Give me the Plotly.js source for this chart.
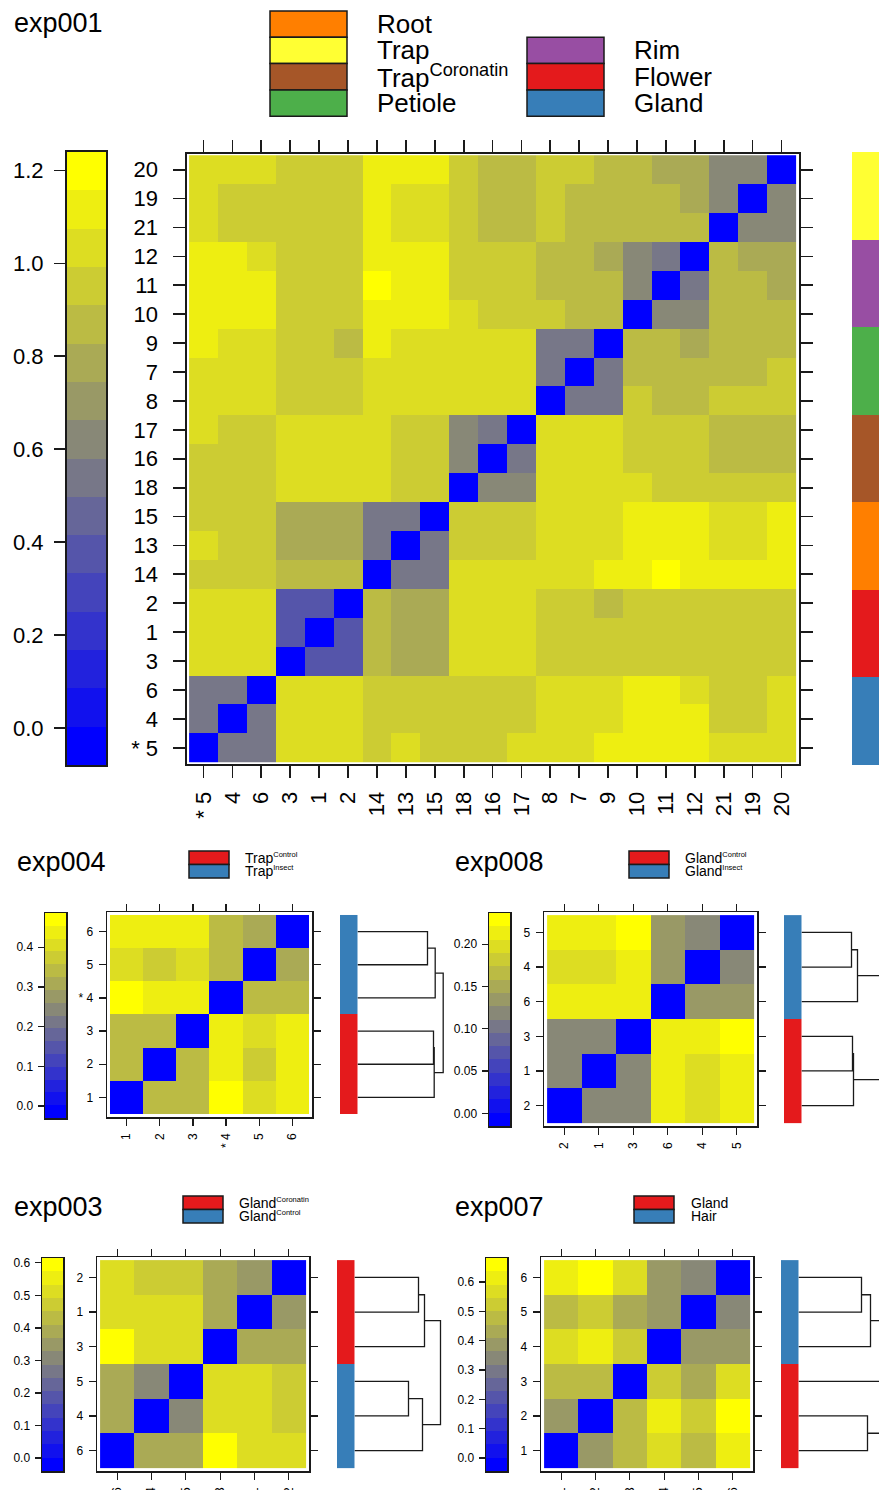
<!DOCTYPE html>
<html><head><meta charset="utf-8">
<script src="https://cdn.plot.ly/plotly-3.0.1.min.js"></script>
<style>html,body{margin:0;padding:0;background:#fff}#chart{width:879px;height:1490px}</style>
</head><body><div id="chart"></div>
<script>
// ---------------- DATA ----------------
// exp001 (main): rows listed top -> bottom, columns left -> right
const mainCols = ["* 5","4","6","3","1","2","14","13","15","18","16","17","8","7","9","10","11","12","21","19","20"];
const mainRows = ["20","19","21","12","11","10","9","7","8","17","16","18","15","13","14","2","1","3","6","4","* 5"];
const mainValues = [
 [1.03,1.03,1.03,0.95,0.95,0.95,1.12,1.12,1.12,0.95,0.87,0.87,0.95,0.95,0.87,0.87,0.78,0.78,0.62,0.62,0],
 [1.03,0.95,0.95,0.95,0.95,0.95,1.12,1.03,1.03,0.95,0.87,0.87,0.95,0.87,0.87,0.87,0.87,0.78,0.62,0,0.62],
 [1.03,0.95,0.95,0.95,0.95,0.95,1.12,1.03,1.03,0.95,0.87,0.87,0.95,0.87,0.87,0.87,0.87,0.87,0,0.62,0.62],
 [1.12,1.12,1.03,0.95,0.95,0.95,1.12,1.12,1.12,0.95,0.95,0.95,0.87,0.87,0.78,0.62,0.54,0,0.87,0.78,0.78],
 [1.12,1.12,1.12,0.95,0.95,0.95,1.20,1.12,1.12,0.95,0.95,0.95,0.87,0.87,0.87,0.62,0,0.54,0.87,0.87,0.78],
 [1.12,1.12,1.12,0.95,0.95,0.95,1.12,1.12,1.12,1.03,0.95,0.95,0.95,0.87,0.87,0,0.62,0.62,0.87,0.87,0.87],
 [1.12,1.03,1.03,0.95,0.95,0.87,1.12,1.03,1.03,1.03,1.03,1.03,0.54,0.54,0,0.87,0.87,0.78,0.87,0.87,0.87],
 [1.03,1.03,1.03,0.95,0.95,0.95,1.03,1.03,1.03,1.03,1.03,1.03,0.54,0,0.54,0.87,0.87,0.87,0.87,0.87,0.95],
 [1.03,1.03,1.03,0.95,0.95,0.95,1.03,1.03,1.03,1.03,1.03,1.03,0,0.54,0.54,0.95,0.87,0.87,0.95,0.95,0.95],
 [1.03,0.95,0.95,1.03,1.03,1.03,1.03,0.95,0.95,0.62,0.54,0,1.03,1.03,1.03,0.95,0.95,0.95,0.87,0.87,0.87],
 [0.95,0.95,0.95,1.03,1.03,1.03,1.03,0.95,0.95,0.62,0,0.54,1.03,1.03,1.03,0.95,0.95,0.95,0.87,0.87,0.87],
 [0.95,0.95,0.95,1.03,1.03,1.03,1.03,0.95,0.95,0,0.62,0.62,1.03,1.03,1.03,1.03,0.95,0.95,0.95,0.95,0.95],
 [0.95,0.95,0.95,0.78,0.78,0.78,0.54,0.54,0,0.95,0.95,0.95,1.03,1.03,1.03,1.12,1.12,1.12,1.03,1.03,1.12],
 [1.03,0.95,0.95,0.78,0.78,0.78,0.54,0,0.54,0.95,0.95,0.95,1.03,1.03,1.03,1.12,1.12,1.12,1.03,1.03,1.12],
 [0.95,0.95,0.95,0.87,0.87,0.87,0,0.54,0.54,1.03,1.03,1.03,1.03,1.03,1.12,1.12,1.20,1.12,1.12,1.12,1.12],
 [1.03,1.03,1.03,0.37,0.37,0,0.87,0.78,0.78,1.03,1.03,1.03,0.95,0.95,0.87,0.95,0.95,0.95,0.95,0.95,0.95],
 [1.03,1.03,1.03,0.37,0,0.37,0.87,0.78,0.78,1.03,1.03,1.03,0.95,0.95,0.95,0.95,0.95,0.95,0.95,0.95,0.95],
 [1.03,1.03,1.03,0,0.37,0.37,0.87,0.78,0.78,1.03,1.03,1.03,0.95,0.95,0.95,0.95,0.95,0.95,0.95,0.95,0.95],
 [0.54,0.54,0,1.03,1.03,1.03,0.95,0.95,0.95,0.95,0.95,0.95,1.03,1.03,1.03,1.12,1.12,1.03,0.95,0.95,1.03],
 [0.54,0,0.54,1.03,1.03,1.03,0.95,0.95,0.95,0.95,0.95,0.95,1.03,1.03,1.03,1.12,1.12,1.12,0.95,0.95,1.03],
 [0,0.54,0.54,1.03,1.03,1.03,0.95,1.03,0.95,0.95,0.95,1.03,1.03,1.03,1.12,1.12,1.12,1.12,1.03,1.03,1.03]
];
const mainGroupNames = ["Root","Trap","TrapCoronatin","Petiole","Rim","Flower","Gland"];
const mainGroupLabels = ["Root","Trap","Trap<sup>Coronatin</sup>","Petiole","Rim","Flower","Gland"];
const mainRowGroups = ["Trap","Trap","Trap","Rim","Rim","Rim","Petiole","Petiole","Petiole",
  "TrapCoronatin","TrapCoronatin","TrapCoronatin","Root","Root","Root","Flower","Flower","Flower","Gland","Gland","Gland"];
const mainScale = [-0.08, 1.24];
const mainTicks = [0.0, 0.2, 0.4, 0.6, 0.8, 1.0, 1.2];
const mainTickText = ["0.0","0.2","0.4","0.6","0.8","1.0","1.2"];

// exp004
const e004Cols = ["1","2","3","* 4","5","6"];
const e004Rows = ["6","5","* 4","3","2","1"];
const e004Values = [
 [0.44,0.44,0.44,0.34,0.31,0],
 [0.40,0.37,0.40,0.34,0,0.31],
 [0.47,0.44,0.44,0,0.34,0.34],
 [0.34,0.34,0,0.44,0.40,0.44],
 [0.34,0,0.34,0.44,0.37,0.44],
 [0,0.34,0.34,0.47,0.40,0.44]
];
const e004GroupLabels = ["Trap<sup><span style='font-size:7.5px'>Control</span></sup>","Trap<sup><span style='font-size:7.5px'>Insect</span></sup>"];
const e004RowGroups = [1,1,1,0,0,0];
const e004Scale = [-0.030, 0.486];
const e004Ticks = [0.0,0.1,0.2,0.3,0.4];
const e004TickText = ["0.0","0.1","0.2","0.3","0.4"];
const e004Merge = [[-1,-2],[1,-3],[-4,-5],[3,-6],[2,4]];
const e004Height = [0.700,0.777,0.760,0.767,0.857];

// exp008
const e008Cols = ["2","1","3","6","4","5"];
const e008Rows = ["5","4","6","3","1","2"];
const e008Values = [
 [0.213,0.213,0.229,0.135,0.119,0],
 [0.198,0.198,0.213,0.135,0,0.119],
 [0.213,0.213,0.213,0,0.135,0.135],
 [0.119,0.119,0,0.213,0.213,0.229],
 [0.119,0,0.119,0.213,0.198,0.213],
 [0,0.119,0.119,0.213,0.198,0.213]
];
const e008GroupLabels = ["Gland<sup><span style='font-size:7.5px'>Control</span></sup>","Gland<sup><span style='font-size:7.5px'>Insect</span></sup>"];
const e008RowGroups = [1,1,1,0,0,0];
const e008Scale = [-0.015, 0.237];
const e008Ticks = [0.00,0.05,0.10,0.15,0.20];
const e008TickText = ["0.00","0.05","0.10","0.15","0.20"];
const e008Merge = [[-1,-2],[1,-3],[-4,-5],[3,-6],[2,4]];
const e008Height = [0.50,0.56,0.51,0.52,1.00];

// exp003
const e003Cols = ["6","4","5","3","1","2"];
const e003Rows = ["2","1","3","5","4","6"];
const e003Values = [
 [0.51,0.47,0.47,0.39,0.35,0],
 [0.51,0.51,0.51,0.39,0,0.35],
 [0.60,0.51,0.51,0,0.39,0.39],
 [0.39,0.31,0,0.51,0.51,0.47],
 [0.39,0,0.31,0.51,0.51,0.47],
 [0,0.39,0.39,0.60,0.51,0.51]
];
const e003GroupLabels = ["Gland<sup><span style='font-size:7.5px'>Coronatin</span></sup>","Gland<sup><span style='font-size:7.5px'>Control</span></sup>"];
const e003RowGroups = [0,0,0,1,1,1];
const e003Scale = [-0.040, 0.615];
const e003Ticks = [0.0,0.1,0.2,0.3,0.4,0.5,0.6];
const e003TickText = ["0.0","0.1","0.2","0.3","0.4","0.5","0.6"];
const e003Merge = [[-1,-2],[1,-3],[-4,-5],[3,-6],[2,4]];
const e003Height = [0.64,0.70,0.54,0.68,0.86];

// exp007
const e007Cols = ["1","2","3","4","5","6"];
const e007Rows = ["6","5","4","3","2","1"];
const e007Values = [
 [0.61,0.66,0.57,0.39,0.34,0],
 [0.48,0.52,0.43,0.39,0,0.34],
 [0.57,0.61,0.52,0,0.39,0.39],
 [0.48,0.48,0,0.52,0.43,0.57],
 [0.39,0,0.48,0.61,0.52,0.66],
 [0,0.39,0.48,0.57,0.48,0.61]
];
const e007GroupLabels = ["Gland","Hair"];
const e007RowGroups = [1,1,1,0,0,0];
const e007Scale = [-0.044, 0.682];
const e007Ticks = [0.0,0.1,0.2,0.3,0.4,0.5,0.6];
const e007TickText = ["0.0","0.1","0.2","0.3","0.4","0.5","0.6"];
const e007Merge = [[-1,-2],[1,-3],[-5,-6],[-4,3],[2,4]];
const e007Height = [0.63,0.72,0.69,0.95,1.10];

// ---------------- STYLE / LAYOUT ----------------
const W = 879, H = 1490;
const FONT = '"Liberation Sans", Arial, Helvetica, sans-serif';
const LINE = '#1a1a1a';
const px = x => x / W, py = y => 1 - y / H;
const RAMP = ['#0000FF','#1111EE','#2222DD','#3333CC','#4444BB','#5555AA','#666699','#777788',
              '#888877','#999966','#AAAA55','#BBBB44','#CCCC33','#DDDD22','#EEEE11','#FFFF00'];
const MAIN_GROUP_COLORS = {Root:'#FF7F00',Trap:'#FFFF33',TrapCoronatin:'#A65628',Petiole:'#4DAF4A',Rim:'#984EA3',Flower:'#E41A1C',Gland:'#377EB8'};
const PAIR_COLORS = ['#E41A1C','#377EB8'];

function discreteScale(cols){const n=cols.length,s=[];cols.forEach((c,i)=>{s.push([i/n,c]);s.push([(i+1)/n,c]);});return s;}
const RAMP_SCALE = discreteScale(RAMP);

const data = [];
const layout = {width:W,height:H,margin:{l:0,r:0,t:0,b:0},paper_bgcolor:'#fff',plot_bgcolor:'#fff',
  showlegend:false,shapes:[],annotations:[],font:{family:FONT,color:'#000'}};
let axN = 0;
function newAxes(xd, yd, xopt, yopt){
  axN++; const s = axN===1?'':String(axN);
  layout['xaxis'+s] = Object.assign({domain:[px(xd[0]),px(xd[1])],anchor:'y'+s,showgrid:false,zeroline:false,fixedrange:true},xopt);
  layout['yaxis'+s] = Object.assign({domain:[py(yd[1]),py(yd[0])],anchor:'x'+s,showgrid:false,zeroline:false,fixedrange:true},yopt);
  return {x:'x'+s,y:'y'+s};
}
const rev = a => a.slice().reverse();
const idx = n => Array.from({length:n},(_,i)=>i);

function panel(p){
  const st = p.style, nr = p.rows.length, nc = p.cols.length;
  const tf = {size:st.fs,family:FONT,color:'#000'};
  // colour key
  const nb = RAMP.length, step = (p.scale[1]-p.scale[0])/nb;
  const centers = idx(nb).map(k => p.scale[0]+(k+0.5)*step);
  let a = newAxes(p.cb.slice(0,2), p.cb.slice(2),
    {range:[-0.5,0.5],showticklabels:false,ticks:'',showline:true,mirror:true,linecolor:LINE,linewidth:st.lw},
    {range:p.scale,side:'left',tickmode:'array',tickvals:p.ticks,ticktext:p.tickText,ticks:'outside',ticklen:st.ctl,
     tickwidth:st.tw,tickcolor:LINE,showline:true,mirror:true,linecolor:LINE,linewidth:st.lw,tickfont:tf,ticklabelstandoff:st.cso});
  data.push({type:'heatmap',x:[0],y:centers,z:centers.map(c=>[c]),zmin:p.scale[0],zmax:p.scale[1],
    colorscale:RAMP_SCALE,showscale:false,hoverinfo:'skip',xaxis:a.x,yaxis:a.y});
  // heatmap
  const xr = [-0.5-p.pad[0], nc-0.5+p.pad[0]], yr = [-0.5-p.pad[1], nr-0.5+p.pad[1]];
  a = newAxes(p.hm.slice(0,2), p.hm.slice(2),
    {range:xr,tickmode:'array',tickvals:idx(nc),ticktext:p.cols,tickangle:-90,ticks:'outside',ticklen:st.tl,tickwidth:st.tw,
     tickcolor:LINE,showline:true,mirror:'ticks',linecolor:LINE,linewidth:st.lw,tickfont:tf,ticklabelstandoff:st.xso},
    {range:yr,tickmode:'array',tickvals:idx(nr),ticktext:rev(p.rows),ticks:'outside',ticklen:st.tl,tickwidth:st.tw,
     tickcolor:LINE,showline:true,mirror:'ticks',linecolor:LINE,linewidth:st.lw,tickfont:tf,ticklabelstandoff:st.yso});
  data.push({type:'heatmap',x:idx(nc),y:idx(nr),z:rev(p.values),zmin:p.scale[0],zmax:p.scale[1],
    colorscale:RAMP_SCALE,showscale:false,hoverinfo:'skip',xaxis:a.x,yaxis:a.y});
  // side bar
  const ng = p.groupColors.length;
  a = newAxes(p.sb, p.sbY || p.hm.slice(2), {range:[-0.5,0.5],visible:false}, {range:p.sbY?[-0.5,nr-0.5]:yr,visible:false});
  data.push({type:'heatmap',x:[0],y:idx(nr),z:rev(p.rowGroups).map(g=>[g]),zmin:-0.5,zmax:ng-0.5,
    colorscale:discreteScale(p.groupColors),showscale:false,hoverinfo:'skip',xaxis:a.x,yaxis:a.y});
  // dendrogram
  if(p.merge){
    a = newAxes(p.dend, p.hm.slice(2), {range:[0,(p.dend[1]-p.dend[0])/100],visible:false}, {range:yr,visible:false});
    const pos = [], hgt = [], xs = [], ys = [];
    const node = r => r<0 ? {y:nr-(-r), h:0} : {y:pos[r-1], h:hgt[r-1]};
    p.merge.forEach((m,i)=>{
      const A = node(m[0]), B = node(m[1]), h = p.height[i];
      xs.push(A.h,h,h,B.h,null); ys.push(A.y,A.y,B.y,B.y,null);
      pos.push((A.y+B.y)/2); hgt.push(h);
    });
    data.push({type:'scatter',mode:'lines',x:xs,y:ys,line:{color:LINE,width:1.3},hoverinfo:'skip',xaxis:a.x,yaxis:a.y});
  }
  // title
  layout.annotations.push({xref:'paper',yref:'paper',x:px(p.title[1]),y:py(p.title[2]),xanchor:'left',yanchor:'middle',
    text:p.title[0],showarrow:false,font:{size:27,family:FONT,color:'#000'}});
}

const BIG = {fs:22,lw:2,tw:1.8,tl:12,ctl:11,cso:6,xso:5,yso:10};
const SMALL = {fs:12,lw:1.5,tw:1.2,tl:7,ctl:6,cso:2,xso:3,yso:3};

panel({title:['exp001',12,23],rows:mainRows,cols:mainCols,values:mainValues,scale:mainScale,ticks:mainTicks,tickText:mainTickText,
  rowGroups:mainRowGroups.map(g=>mainGroupNames.indexOf(g)),groupColors:mainGroupNames.map(g=>MAIN_GROUP_COLORS[g]),
  style:BIG,cb:[67,106,152,765],hm:[186.5,798.5,153.5,764],pad:[0.09,0.06],sb:[852,879],sbY:[152,765]});
panel({title:['exp004',15,862],rows:e004Rows,cols:e004Cols,values:e004Values,scale:e004Scale,ticks:e004Ticks,tickText:e004TickText,
  rowGroups:e004RowGroups,groupColors:PAIR_COLORS,style:SMALL,cb:[45,66,913,1118],hm:[107,312,912,1117],pad:[0.09,0.09],
  sb:[340,358],dend:[357.5,445],merge:e004Merge,height:e004Height});
panel({title:['exp008',453,862],rows:e008Rows,cols:e008Cols,values:e008Values,scale:e008Scale,ticks:e008Ticks,tickText:e008TickText,
  rowGroups:e008RowGroups,groupColors:PAIR_COLORS,style:SMALL,cb:[489,510,913,1126],hm:[544,757,912,1126],pad:[0.09,0.09],
  sb:[784,802],dend:[801.5,879],merge:e008Merge,height:e008Height});
panel({title:['exp003',12,1207],rows:e003Rows,cols:e003Cols,values:e003Values,scale:e003Scale,ticks:e003Ticks,tickText:e003TickText,
  rowGroups:e003RowGroups,groupColors:PAIR_COLORS,style:SMALL,cb:[42,63,1258,1471],hm:[97,309,1257,1471],pad:[0.09,0.09],
  sb:[337,355],dend:[354.5,443],merge:e003Merge,height:e003Height});
panel({title:['exp007',453,1207],rows:e007Rows,cols:e007Cols,values:e007Values,scale:e007Scale,ticks:e007Ticks,tickText:e007TickText,
  rowGroups:e007RowGroups,groupColors:PAIR_COLORS,style:SMALL,cb:[486,507,1258,1471],hm:[541,753,1257,1471],pad:[0.09,0.09],
  sb:[781,799],dend:[798.5,879],merge:e007Merge,height:e007Height});

// legends
function legendBox(x0,x1,y0,y1,color,label,tx,fs){
  layout.shapes.push({type:'rect',xref:'paper',yref:'paper',x0:px(x0),x1:px(x1),y0:py(y1),y1:py(y0),
    fillcolor:color,line:{color:LINE,width:1.5}});
  layout.annotations.push({xref:'paper',yref:'paper',x:px(tx),y:py((y0+y1)/2),xanchor:'left',yanchor:'middle',
    text:label,showarrow:false,font:{size:fs,family:FONT,color:'#000'}});
}
const mainLegendCol1 = ["Root","Trap","TrapCoronatin","Petiole"], mainLegendCol2 = ["Rim","Flower","Gland"];
const LH = 26.3;
mainLegendCol1.forEach((g,i)=>legendBox(270,347,11+i*LH,11+(i+1)*LH,MAIN_GROUP_COLORS[g],mainGroupLabels[mainGroupNames.indexOf(g)],375,26));
mainLegendCol2.forEach((g,i)=>legendBox(527,604,11+(i+1)*LH,11+(i+2)*LH,MAIN_GROUP_COLORS[g],mainGroupLabels[mainGroupNames.indexOf(g)],632,26));
[[e004GroupLabels,189,851,243],[e008GroupLabels,629,851,683],[e003GroupLabels,183,1196,237],[e007GroupLabels,634,1196,689]].forEach(L=>{
  L[0].forEach((lab,i)=>legendBox(L[1],L[1]+40,L[2]+i*13.5,L[2]+(i+1)*13.5,PAIR_COLORS[i],lab,L[3],14));
});

Plotly.newPlot('chart',data,layout,{staticPlot:true,displayModeBar:false});
</script></body></html>
